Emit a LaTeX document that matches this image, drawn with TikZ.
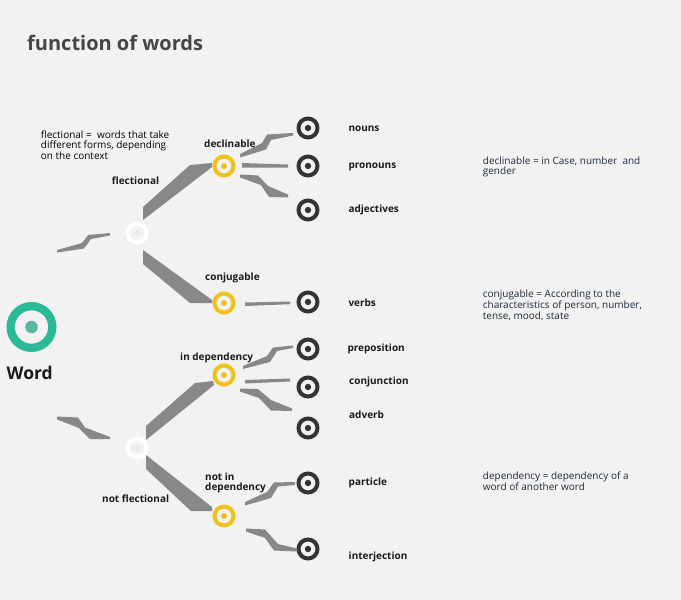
\documentclass[tikz,border=0pt]{standalone}
\usepackage{fontspec}
\setmainfont{Open Sans}
\definecolor{bg}{HTML}{F2F2F2}
\definecolor{rib}{HTML}{888888}
\definecolor{dark}{HTML}{333333}
\definecolor{yel}{HTML}{F0C11B}
\definecolor{grn}{HTML}{2BBA98}
\definecolor{grndot}{HTML}{5CB6A2}
\definecolor{whdot}{HTML}{EBEBEB}
\definecolor{titlec}{HTML}{454545}
\definecolor{notec}{HTML}{1E2B3C}
\definecolor{labc}{HTML}{1A1A1A}
\begin{document}
\begin{tikzpicture}[x=1pt,y=-1pt,
  ring/.style={circle,draw,line width=4pt,minimum size=19pt,inner sep=0pt},
  darkring/.style={ring,draw=dark},
  yelring/.style={ring,draw=yel},
  whitering/.style={ring,draw=white},
  ribbon/.style={fill=rib,draw=none},
  lab/.style={font=\bfseries\fontsize{10}{12}\selectfont,text=labc,anchor=base west,inner sep=0pt},
  note/.style={font=\fontsize{10}{9.7}\selectfont,text=notec,align=left,anchor=north west,inner sep=0pt}]
\useasboundingbox (0,0) rectangle (681,600);
\fill[bg] (0,0) rectangle (681,600);

% title
\node[anchor=base west,font=\bfseries\fontsize{20}{24}\selectfont,text=titlec,inner sep=0pt] (title) at (27,50.7) {function of words};

% root
\node[circle,draw=grn,line width=8.3pt,minimum size=41.7pt,inner sep=0pt] (word) at (31.5,327) {};
\fill[grndot] (word.center) circle[radius=6.3pt];
\node[anchor=base west,font=\bfseries\fontsize{17.5}{20}\selectfont,text=labc,inner sep=0pt] (wordlab) at (6.5,379.3) {Word};

% white nodes
\node[whitering] (flect) at (137,233) {};
\node[whitering] (nflect) at (137,448) {};
% yellow nodes
\node[yelring] (decl) at (224,166) {};
\node[yelring] (conj) at (224,303) {};
\node[yelring] (indep) at (224,375) {};
\node[yelring] (nindep) at (224,516) {};
% dark nodes
\node[darkring] (nouns) at (308,128) {};
\node[darkring] (pronouns) at (308,166) {};
\node[darkring] (adjectives) at (308,210) {};
\node[darkring] (verbs) at (308,302) {};
\node[darkring] (prep) at (308,349) {};
\node[darkring] (conjunction) at (308,387) {};
\node[darkring] (adverb) at (308,428) {};
\node[darkring] (particle) at (308,483) {};
\node[darkring] (interj) at (308,549) {};

\foreach \n in {flect,nflect}{\fill[whdot] (\n.center) circle[radius=3pt];}
\foreach \n in {decl,conj,indep,nindep}{\fill[yel] (\n.center) circle[radius=3pt];}
\foreach \n in {nouns,pronouns,adjectives,verbs,prep,conjunction,adverb,particle,interj}{\fill[dark] (\n.center) circle[radius=3.2pt];}

% ribbons from flectional
\begin{scope}[shift={(flect)}]
\fill[ribbon] (-80,17) -- (-55,10) -- (-49,2) -- (-27,0) -- (-27,2.5) -- (-46,6) -- (-53,15.5) -- (-80,19.5) -- cycle;
\fill[ribbon] (6,-13) -- (6,-26) -- (53,-68) -- (75,-70) -- (75,-66) -- cycle;
\fill[ribbon] (6,17) -- (75,67) -- (75,70) -- (53,70) -- (6,31) -- cycle;
\end{scope}
% ribbons from not flectional
\begin{scope}[shift={(nflect)}]
\fill[ribbon] (-80,-31.5) -- (-59,-30.5) -- (-52,-20.5) -- (-27,-11) -- (-27,-9) -- (-47,-9) -- (-58,-20) -- (-80,-28.5) -- cycle;
\fill[ribbon] (9,-8) -- (9,-22) -- (58,-65) -- (76,-67) -- (77,-63) -- cycle;
\fill[ribbon] (9,7) -- (75,59) -- (75,63) -- (54,63) -- (9,21) -- cycle;
\end{scope}
% declinable
\begin{scope}[shift={(decl)}]
\fill[ribbon] (16,-12) -- (38,-23) -- (43,-31.5) -- (69,-33) -- (69,-30.5) -- (47,-26) -- (42,-16.5) -- (16,-8.5) -- cycle;
\fill[ribbon] (18,-3) -- (64,-1.5) -- (64,1.5) -- (18,1.5) -- cycle;
\fill[ribbon] (16,8.5) -- (34,9.5) -- (44,20) -- (64,28.5) -- (64,31.5) -- (45,31) -- (37,19) -- (16,11.5) -- cycle;
\end{scope}
% conjugable
\begin{scope}[shift={(conj)}]
\fill[ribbon] (21,-0.5) -- (66,-1.5) -- (66,1.2) -- (21,3) -- cycle;
\end{scope}
% in dependency
\begin{scope}[shift={(indep)}]
\fill[ribbon] (19,-9) -- (43,-19) -- (49,-27.5) -- (69,-29.5) -- (69,-27) -- (53,-24) -- (46,-13) -- (19,-6) -- cycle;
\fill[ribbon] (21,5) -- (66,3.5) -- (66,6.5) -- (21,8.5) -- cycle;
\fill[ribbon] (16,13.5) -- (34,14) -- (47,25) -- (68,33.5) -- (68,36) -- (47,35.5) -- (35,23) -- (16,16.5) -- cycle;
\end{scope}
% not in dependency
\begin{scope}[shift={(nindep)}]
\fill[ribbon] (21,-14) -- (43,-24) -- (50,-33.5) -- (71,-34) -- (71,-31) -- (54,-29.5) -- (47,-18) -- (21,-10.5) -- cycle;
\fill[ribbon] (22,12.5) -- (41,13.5) -- (54,28) -- (73,32.5) -- (73,35.5) -- (50,34.5) -- (41,22) -- (22,15.5) -- cycle;
\end{scope}

% branch labels
\node[lab] (lflect) at (111.7,184) {flectional};
\node[lab] (ldecl) at (204,147.3) {declinable};
\node[lab] (lconj) at (205,280.7) {conjugable};
\node[lab] (lindep) at (180,360) {in dependency};
\node[lab,align=left,anchor=north west,font=\bfseries\fontsize{10}{10}\selectfont] (lnindep) at (205,472.5) {not in\\dependency};
\node[lab] (lnflect) at (102,502.3) {not flectional};

% leaf labels
\node[lab] (lnouns) at (348.3,131) {nouns};
\node[lab] (lpronouns) at (348.3,168.3) {pronouns};
\node[lab] (ladj) at (348.3,212.3) {adjectives};
\node[lab] (lverbs) at (348.3,306.7) {verbs};
\node[lab] (lprep) at (347.3,351.7) {preposition};
\node[lab] (lconjunction) at (349,384.3) {conjunction};
\node[lab] (ladverb) at (349,418.3) {adverb};
\node[lab] (lparticle) at (348.5,485) {particle};
\node[lab] (linterj) at (348.5,559.3) {interjection};

% notes
\node[note,text=black] (nflectnote) at (40.7,131) {flectional =\ \ words that take\\different forms, depending\\on the context};
\node[note] (ndecl) at (482.7,156.5) {declinable = in Case, number\ \ and\\gender};
\node[note] (nconj) at (482.7,289.2) {conjugable = According to the\\characteristics of person, number,\\tense, mood, state};
\node[note] (ndep) at (482.7,471.5) {dependency = dependency of a\\word of another word};
\end{tikzpicture}
\end{document}
